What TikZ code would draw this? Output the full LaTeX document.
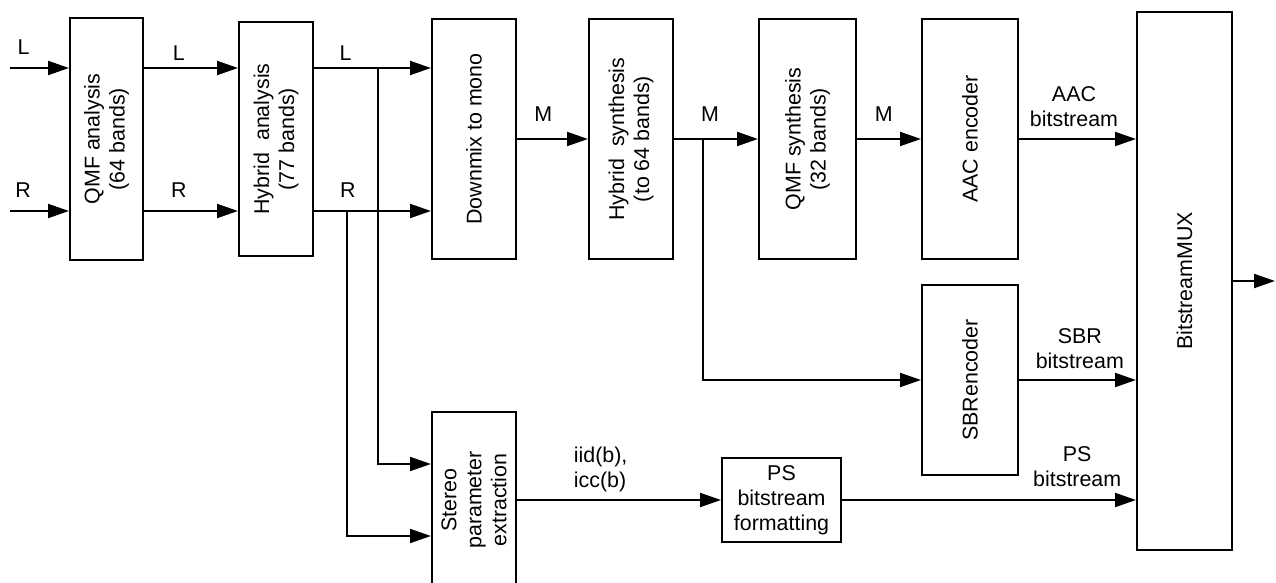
\documentclass[tikz,border=0pt]{standalone}
\usepackage{fontspec}
\setmainfont{Liberation Sans}
\usepackage{tikz}
\usetikzlibrary{arrows.meta,positioning}

\begin{document}
\begin{tikzpicture}[x=0.5pt, y=-0.5pt, auto,
    font=\fontsize{10.7}{12.5}\selectfont,
    line width=1pt, >={Triangle[length=10.5pt,width=7pt]},
    blk/.style={draw, inner sep=0pt},
    vtxt/.style={label={[rotate=90,align=center]center:#1}}]
  \useasboundingbox (0,0) rectangle (1276,583);
  % analysis and mono path
  \node (Q) [blk, minimum width=36.5pt, minimum height=121pt, vtxt={QMF analysis\\(64 bands)}] at (106.5,139) {};
  \node (H) [blk, right=47pt of Q, minimum width=37pt, minimum height=117pt, vtxt={Hybrid~ analysis\\(77 bands)}] {};
  \node (D) [blk, right=58.5pt of H, minimum width=42pt, minimum height=120pt, vtxt={Downmix to mono}] {};
  \node (HS) [blk, right=35.5pt of D, minimum width=42pt, minimum height=120pt, vtxt={Hybrid~ synthesis\\(to 64 bands)}] {};
  \node (QS) [blk, right=42pt of HS, minimum width=48.5pt, minimum height=120pt, vtxt={QMF synthesis\\(32 bands)}] {};
  \node (AAC) [blk, right=32pt of QS, minimum width=48pt, minimum height=120pt, vtxt={AAC encoder}] {};
  \node (SBR) [blk, below=12pt of AAC, minimum width=48pt, minimum height=95pt, vtxt={SBRencoder}] {};
  \node (MUX) [blk, minimum width=47.5pt, minimum height=268.5pt, vtxt={BitstreamMUX}] at (1184.5,281) {};
  % stereo parameters
  \node (ST) [blk, below=75.5pt of D, minimum width=42pt, minimum height=88pt, vtxt={Stereo\\parameter\\extraction}] {};
  \node (PS) [blk, right=102pt of ST, minimum width=59.5pt, minimum height=42pt, align=center] {PS\\bitstream\\formatting};

  \coordinate (inL) at (10,68);
  \coordinate (inR) at (10,211);
  \coordinate (jL) at (378,68);
  \coordinate (jR) at (347,211);
  \coordinate (jM) at (703,139);
  \coordinate (out) at (1275,281);

  \draw [->] (inL) to node[pos=.23, yshift=3pt] {L} (inL -| Q.west);
  \draw [->] (inR) to node[pos=.22, yshift=3pt] {R} (inR -| Q.west);
  \draw [->] (inL -| Q.east) to node[pos=.37] {L} (inL -| H.west);
  \draw [->] (inR -| Q.east) to node[pos=.37, yshift=3pt] {R} (inR -| H.west);
  \draw [->] (inL -| H.east) to node[pos=.27] {L} (inL -| D.west);
  \draw [->] (inR -| H.east) to node[pos=.29, yshift=3pt] {R} (inR -| D.west);
  \draw [->] (jL) |- ([yshift=18pt]ST.west);
  \draw [->] (jR) |- ([yshift=-18pt]ST.west);
  \draw [->] (D) to node[pos=.37, yshift=5pt] {M} (HS);
  \draw [->] (HS) to node[pos=.43, yshift=5pt] {M} (QS);
  \draw [->] (QS) to node[pos=.42, yshift=5pt] {M} (AAC);
  \draw [->] (jM) |- (SBR);
  \draw [->] (AAC) to node[pos=.47, yshift=2.5pt, align=center] {AAC\\bitstream} (AAC -| MUX.west);
  \draw [->] (SBR) to node[pos=.52, yshift=2pt, align=center] {SBR\\bitstream} (SBR -| MUX.west);
  \draw [->] (ST) to node[pos=.41, align=left] {iid(b),\\icc(b)} (PS);
  \draw [->] (PS) to node[pos=.8, yshift=3pt, align=center] {PS\\bitstream} (PS -| MUX.west);
  \draw [->] (MUX) -- (out);
\end{tikzpicture}
\end{document}
